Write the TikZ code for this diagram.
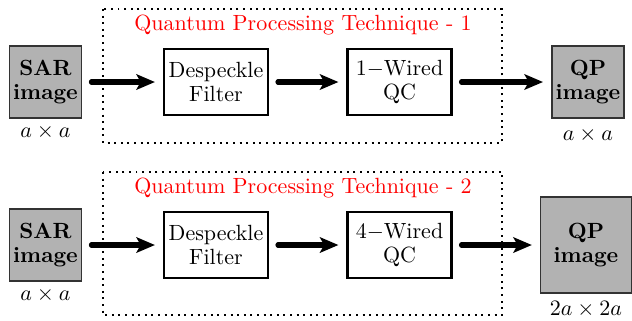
\documentclass[tikz,border=0pt]{standalone}
\usetikzlibrary{arrows.meta}
\begin{document}
\begin{tikzpicture}[x=0.4545pt,y=-0.4545pt,
  every node/.style={font=\fontsize{10}{11}\selectfont, inner sep=0pt, outer sep=0pt},
  imgbox/.style={draw=black!80, line width=0.5pt, fill=black!30, font=\fontsize{10}{11}\selectfont\bfseries, align=center},
  procbox/.style={draw=black, line width=1.25pt, fill=white, minimum width=47.3pt, minimum height=30pt, align=center},
  flow/.style={line width=2.3pt, line cap=round, -{Stealth[length=8.4pt,width=7pt,inset=1.9pt]}, shorten <=4.5pt, shorten >=4.1pt},
  stage/.style={draw=black, line width=0.9pt, dash pattern=on 0.9pt off 2.1pt},
  caption/.style={text=red}]
\useasboundingbox (0,0) rectangle (632,320);

% dotted frames of the two techniques
\draw[stage] (103,9) rectangle (502,143);
\draw[stage] (103,172) rectangle (502,315);
\node[caption] (t1) at (303,25) {Quantum Processing Technique - 1};
\node[caption] (t2) at (303,188) {Quantum Processing Technique - 2};

% technique 1
\node[imgbox, minimum width=32.7pt, minimum height=32.7pt] (sar1) at (45.5,82) {SAR\\image};
\node[procbox] (dsp1) at (216,82) {Despeckle\\Filter};
\node[procbox] (qc1) at (399.5,82) {1$-$Wired\\QC};
\node[imgbox, minimum width=32.7pt, minimum height=32.7pt] (qp1) at (588,82) {QP\\image};
\node (ds1) at (45.5,132) {$a\times a$};
\node (dq1) at (588,135) {$a\times a$};
\draw[flow] (sar1) -- (dsp1);
\draw[flow] (dsp1) -- (qc1);
\draw[flow] (qc1) -- (qp1);

% technique 2
\node[imgbox, minimum width=32.7pt, minimum height=32.7pt] (sar2) at (45.5,245) {SAR\\image};
\node[procbox] (dsp2) at (216,245) {Despeckle\\Filter};
\node[procbox] (qc2) at (399.5,245) {4$-$Wired\\QC};
\node[imgbox, minimum width=41pt, minimum height=43.6pt] (qp2) at (586,245) {QP\\image};
\node (ds2) at (45.5,295) {$a\times a$};
\node (dq2) at (586,309) {$2a\times 2a$};
\draw[flow] (sar2) -- (dsp2);
\draw[flow] (dsp2) -- (qc2);
\draw[flow] (qc2) -- (qp2);
\end{tikzpicture}
\end{document}
